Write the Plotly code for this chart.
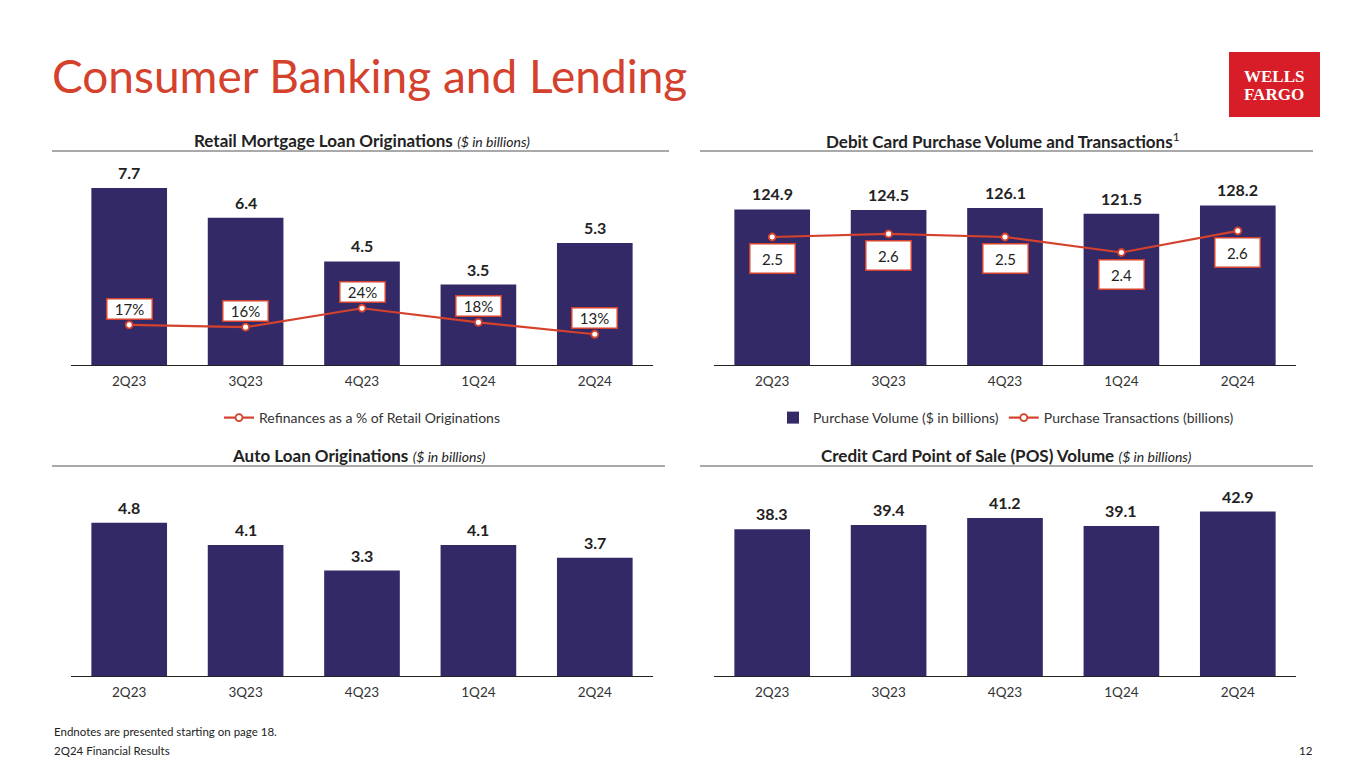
import plotly.graph_objects as go

# page is shown with the browser's 8px body margin, so the figure is
# drawn 8px smaller and all slide coordinates are shifted by that much
W, H = 1365, 768
OFF = 8

QUARTERS = ["2Q23", "3Q23", "4Q23", "1Q24", "2Q24"]
MORTGAGE = [7.7, 6.4, 4.5, 3.5, 5.3]
REFI_PCT = [17, 16, 24, 18, 13]
DEBIT_VOLUME = [124.9, 124.5, 126.1, 121.5, 128.2]
DEBIT_TXN = [2.54, 2.56, 2.54, 2.44, 2.58]
AUTO = [4.8, 4.1, 3.3, 4.1, 3.7]
CREDIT_POS = [38.3, 39.4, 41.2, 39.1, 42.9]

BAR = "#332966"
RED = "#d4412d"
TXT = "#222222"
FONT = "Lato"


def px(x):
    return (x - OFF) / (W - OFF)


def py(y):
    return 1 - (y - OFF) / (H - OFF)


def bar(x, y, values, name=None, legend=None):
    return go.Bar(
        x=QUARTERS, y=values, xaxis=x, yaxis=y, name=name,
        marker=dict(color=BAR, line=dict(width=0)),
        showlegend=legend is not None, legend=legend or "legend",
    )


def line(x, y, values, name, legend):
    return go.Scatter(
        x=QUARTERS, y=values, xaxis=x, yaxis=y, name=name, mode="lines+markers",
        line=dict(color=RED, width=2.2),
        marker=dict(size=7, color="white", line=dict(color=RED, width=1.8)),
        legend=legend,
    )


fig = go.Figure()
fig.add_trace(bar("x", "y", MORTGAGE))
fig.add_trace(line("x", "y2", REFI_PCT, "Refinances as a % of Retail Originations", "legend"))
fig.add_trace(bar("x2", "y3", DEBIT_VOLUME, "Purchase Volume ($ in billions)", "legend2"))
fig.add_trace(line("x2", "y4", DEBIT_TXN, "Purchase Transactions (billions)", "legend2"))
fig.add_trace(bar("x3", "y5", AUTO))
fig.add_trace(bar("x4", "y6", CREDIT_POS))

anns = []


def value_labels(xref, yref, values):
    for q, v in zip(QUARTERS, values):
        anns.append(dict(
            x=q, y=v, xref=xref, yref=yref, text=f"<b>{v:.1f}</b>",
            showarrow=False, yanchor="bottom", yshift=4,
            font=dict(size=16, color=TXT),
        ))


def boxed_labels(xref, yref, values, texts, shift, h):
    for q, v, t in zip(QUARTERS, values, texts):
        anns.append(dict(
            x=q, y=v, xref=xref, yref=yref, text=t, showarrow=False,
            yanchor="middle", yshift=shift, width=42, height=h,
            bgcolor="white", bordercolor=RED, borderwidth=1.5, borderpad=1,
            font=dict(size=15, color=TXT),
        ))


value_labels("x", "y", MORTGAGE)
value_labels("x2", "y3", DEBIT_VOLUME)
value_labels("x3", "y5", AUTO)
value_labels("x4", "y6", CREDIT_POS)
boxed_labels("x", "y2", REFI_PCT, [f"{v}%" for v in REFI_PCT], 16, 17)
boxed_labels("x2", "y4", DEBIT_TXN, [f"{v:.1f}" for v in DEBIT_TXN], -22, 26)

UNIT = "<i><span style='font-size:14px'>($ in billions)</span></i>"
headers = [
    (362, 140, f"<b>Retail Mortgage Loan Originations</b> {UNIT}"),
    (1003, 140, "<b>Debit Card Purchase Volume and Transactions</b><sup>1</sup>"),
    (359, 455, f"<b>Auto Loan Originations</b> {UNIT}"),
    (1006, 455, f"<b>Credit Card Point of Sale (POS) Volume</b> {UNIT}"),
]
for x, y, t in headers:
    anns.append(dict(x=px(x), y=py(y), xref="paper", yref="paper", text=t,
                     showarrow=False, xanchor="center", yanchor="middle",
                     font=dict(size=17, color=TXT)))

anns += [
    dict(x=px(50), y=py(75), xref="paper", yref="paper", text="Consumer Banking and Lending",
         showarrow=False, xanchor="left", yanchor="middle",
         font=dict(size=46, color=RED, family=FONT)),
    dict(x=px(1274), y=py(76), xref="paper", yref="paper", text="<b>WELLS</b>",
         showarrow=False, xanchor="center", yanchor="middle",
         font=dict(size=17, color="white", family="Liberation Serif")),
    dict(x=px(1274), y=py(94), xref="paper", yref="paper", text="<b>FARGO</b>",
         showarrow=False, xanchor="center", yanchor="middle",
         font=dict(size=17, color="white", family="Liberation Serif")),
    dict(x=px(52), y=py(731), xref="paper", yref="paper",
         text="Endnotes are presented starting on page 18.",
         showarrow=False, xanchor="left", yanchor="middle", font=dict(size=11.5, color=TXT)),
    dict(x=px(52), y=py(750), xref="paper", yref="paper", text="2Q24 Financial Results",
         showarrow=False, xanchor="left", yanchor="middle", font=dict(size=11.5, color=TXT)),
    dict(x=px(1315), y=py(750), xref="paper", yref="paper", text="12",
         showarrow=False, xanchor="right", yanchor="middle", font=dict(size=11.5, color=TXT)),
]

shapes = [
    dict(type="rect", xref="paper", yref="paper", x0=px(1229), x1=px(1320),
         y0=py(117), y1=py(52), fillcolor="#d71e28", line=dict(width=0)),
]
for x0, x1, y in [(52, 669, 151), (700, 1313, 151), (52, 665, 466), (700, 1313, 466)]:
    shapes.append(dict(type="line", xref="paper", yref="paper", x0=px(x0), x1=px(x1),
                       y0=py(y), y1=py(y), line=dict(color="#555555", width=1.2)))


def xaxis(x0, x1, anchor):
    return dict(domain=[px(x0), px(x1)], anchor=anchor, showline=True,
                linecolor="#222222", linewidth=1, showgrid=False, zeroline=False,
                ticks="outside", ticklen=4, tickcolor="rgba(0,0,0,0)",
                tickfont=dict(size=13.5, color="#333333"), fixedrange=True)


def yaxis(top, bottom, rng, anchor, overlay=None):
    d = dict(range=rng, anchor=anchor, visible=False, showgrid=False, zeroline=False)
    if overlay:
        d.update(overlaying=overlay, side="right")
    else:
        d["domain"] = [py(bottom), py(top)]
    return d


fig.update_layout(
    width=W - OFF, height=H - OFF, margin=dict(l=0, r=0, t=0, b=0),
    plot_bgcolor="white", paper_bgcolor="white",
    font=dict(family=FONT, size=13, color=TXT),
    bargap=0.35,
    xaxis=xaxis(71, 653, "y"),
    yaxis=yaxis(175, 365, [0, 190 / 23.0], "x"),
    yaxis2=yaxis(175, 365, [0, 190 / 2.364], "x", overlay="y"),
    xaxis2=xaxis(714, 1296, "y3"),
    yaxis3=yaxis(175, 365, [0, 190 / 1.245], "x2"),
    yaxis4=yaxis(175, 365, [2.54 - 128 / 155, 2.54 + 62 / 155], "x2", overlay="y3"),
    xaxis3=xaxis(71, 653, "y5"),
    yaxis5=yaxis(486, 676, [0, 190 / 31.95], "x3"),
    xaxis4=xaxis(714, 1296, "y6"),
    yaxis6=yaxis(486, 676, [0, 190 / 3.834], "x4"),
    legend=dict(orientation="h", x=px(362), y=py(418), xanchor="center", yanchor="middle",
                font=dict(size=14, color="#333333")),
    legend2=dict(orientation="h", x=px(1006), y=py(418), xanchor="center", yanchor="middle",
                 font=dict(size=14, color="#333333"), traceorder="normal"),
    annotations=anns,
    shapes=shapes,
)

fig.write_html("out.html")
